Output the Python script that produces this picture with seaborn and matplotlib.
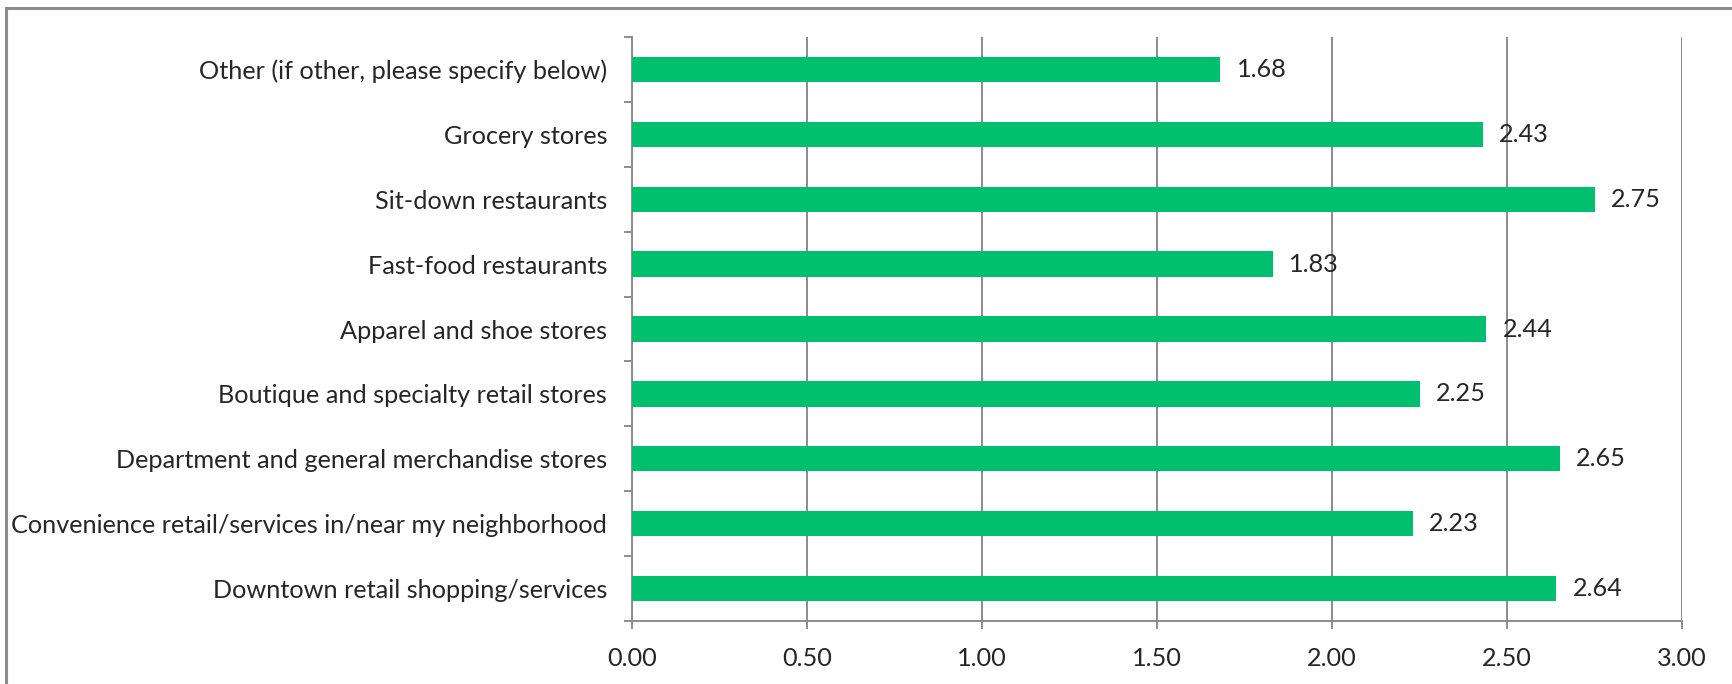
import matplotlib
matplotlib.use("Agg")
import matplotlib.pyplot as plt
import seaborn as sns
import pandas as pd
from matplotlib.patches import Rectangle
from matplotlib.ticker import MultipleLocator, FixedLocator

categories = [
    "Other (if other, please specify below)",
    "Grocery stores",
    "Sit-down restaurants",
    "Fast-food restaurants",
    "Apparel and shoe stores",
    "Boutique and specialty retail stores",
    "Department and general merchandise stores",
    "Convenience retail/services in/near my neighborhood",
    "Downtown retail shopping/services",
]
scores = [1.68, 2.43, 2.75, 1.83, 2.44, 2.25, 2.65, 2.23, 2.64]

df = pd.DataFrame({"category": categories, "score": scores})

sns.set_theme(style="white")
plt.rcParams["font.family"] = ["Lato", "DejaVu Sans"]

GRID = "#8C8C8C"
BAR = "#00BF6F"
FS = 18.2

fig = plt.figure(figsize=(17.32, 6.84), dpi=100)
ax = fig.add_axes([632 / 1732, 1 - 621 / 684, 1050 / 1732, 584 / 684])

sns.barplot(data=df, x="score", y="category", order=categories,
            orient="h", color=BAR, width=0.39, saturation=1,
            edgecolor="none", ax=ax, zorder=3)

ax.set_xlim(0, 3.0)
ax.set_ylim(len(categories) - 0.5, -0.5)
ax.xaxis.set_major_locator(MultipleLocator(0.5))
ax.xaxis.set_major_formatter(plt.FuncFormatter(lambda v, p: f"{v:.2f}"))
ax.grid(axis="x", color=GRID, linewidth=1.4, zorder=0)
ax.grid(axis="y", visible=False)
ax.set_axisbelow(True)

for side in ("top", "right"):
    ax.spines[side].set_visible(False)
for side in ("left", "bottom"):
    ax.spines[side].set_color(GRID)
    ax.spines[side].set_linewidth(1.4)

# category boundary ticks on the y axis
ax.yaxis.set_minor_locator(FixedLocator([i - 0.5 for i in range(len(categories) + 1)]))
ax.tick_params(axis="y", which="minor", left=True, length=6, width=1.4, color=GRID)
ax.tick_params(axis="y", which="major", left=True, length=0, pad=18, labelsize=FS)
ax.tick_params(axis="x", which="major", bottom=True, length=6, width=1.4, color=GRID,
               pad=13, labelsize=FS)
ax.set_xlabel("")
ax.set_ylabel("")

for c in ax.containers:
    ax.bar_label(c, labels=[f"{v:.2f}" for v in scores], padding=12, fontsize=FS)

# chart frame
fig.patches.append(Rectangle((6 / 1732, -0.1), 1.2, 1 - 8 / 684 + 0.1,
                             transform=fig.transFigure, fill=False,
                             edgecolor=GRID, linewidth=2.2))

fig.savefig("out.png", dpi=100)
